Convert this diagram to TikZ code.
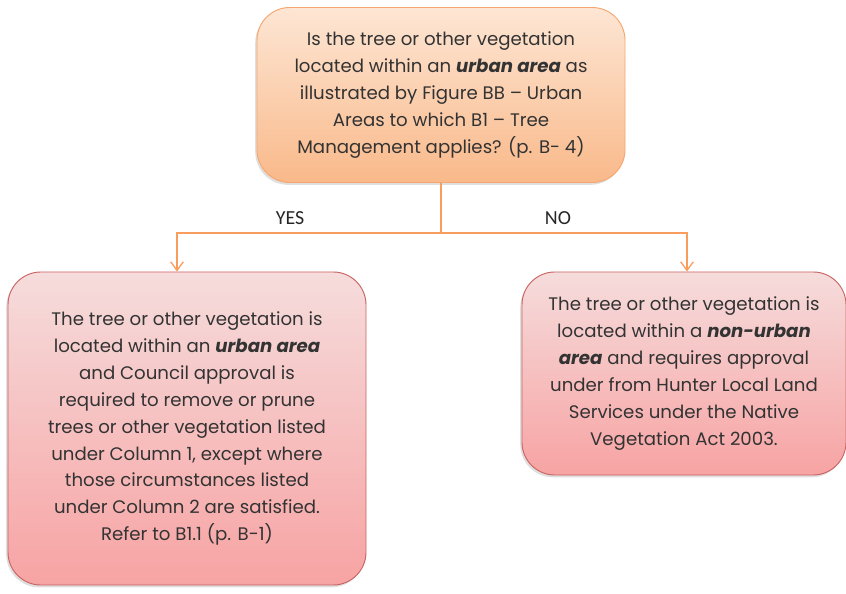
\documentclass[tikz,border=0pt]{standalone}
\usepackage{fontspec}
\setmainfont{Poppins}
\newfontfamily\labelfont{Carlito}
\usetikzlibrary{arrows.meta, positioning, shadows}

\definecolor{peachtop}{HTML}{FDE6D4}
\definecolor{peachbot}{HTML}{F9B98A}
\definecolor{peachline}{HTML}{F6A66E}
\definecolor{pinktop}{HTML}{F6DCDC}
\definecolor{pinkbot}{HTML}{F7A3A3}
\definecolor{pinkline}{HTML}{C96462}
\definecolor{flowline}{HTML}{F89D5E}
\definecolor{bodytext}{HTML}{333333}

\begin{document}
\begin{tikzpicture}[
  x=0.03cm, y=-0.03cm,
  box/.style={draw, rectangle, rounded corners=28pt, align=center,
              font=\fontsize{15.5}{23}\selectfont, text=bodytext, line width=0.8pt,
              drop shadow={shadow xshift=-1.5pt, shadow yshift=-2pt, opacity=0.25}},
  question/.style={box, draw=peachline, top color=peachtop, bottom color=peachbot},
  answer/.style={box, draw=pinkline, top color=pinktop, bottom color=pinkbot},
  branch/.style={draw=flowline, line width=1.1pt},
  choice/.style={branch, -{Straight Barb[length=2.6mm, width=3.8mm]}},
  yesno/.style={font=\labelfont\fontsize{17}{19}\selectfont, text=black!85},
]
  \useasboundingbox (0,0) rectangle (846,594);

  % ---- Question at the top ----
  \node[question, minimum width=11.04cm, minimum height=5.25cm] (urbanq) at (441,95)
    {Is the tree or other vegetation\\
     located within an \textbf{\textit{urban area}} as\\
     illustrated by Figure BB -- Urban\\
     Areas to which B1 -- Tree\\
     Management applies? (p. B- 4)};

  % ---- Outcomes ----
  \node[answer, minimum width=10.74cm, minimum height=9.39cm] (urban) at (187,428.5)
    {The tree or other vegetation is\\
     located within an \textbf{\textit{urban area}}\\
     and Council approval is\\
     required to remove or prune\\
     trees or other vegetation listed\\
     under Column 1, except where\\
     those circumstances listed\\
     under Column 2 are satisfied.\\
     Refer to B1.1 (p. B-1)};
  \node[answer, minimum width=9.72cm, minimum height=6.09cm] (nonurban) at (684,373.5)
    {The tree or other vegetation is\\
     located within a \textbf{\textit{non-urban}}\\
     \textbf{\textit{area}} and requires approval\\
     under from Hunter Local Land\\
     Services under the Native\\
     Vegetation Act 2003.};

  % ==== BRANCHES ====
  \coordinate (split) at (441,233);
  \draw[branch] (urbanq.south) -- (split);
  \draw[choice] (split) -| ([xshift=-3mm]urban.north);                   % yes
  \draw[choice] (split) -| ([xshift=0.9mm]nonurban.north);               % no
  \node[yesno] (yes) at (290,218) {YES};
  \node[yesno] (no)  at (558,218) {NO};
\end{tikzpicture}
\end{document}
